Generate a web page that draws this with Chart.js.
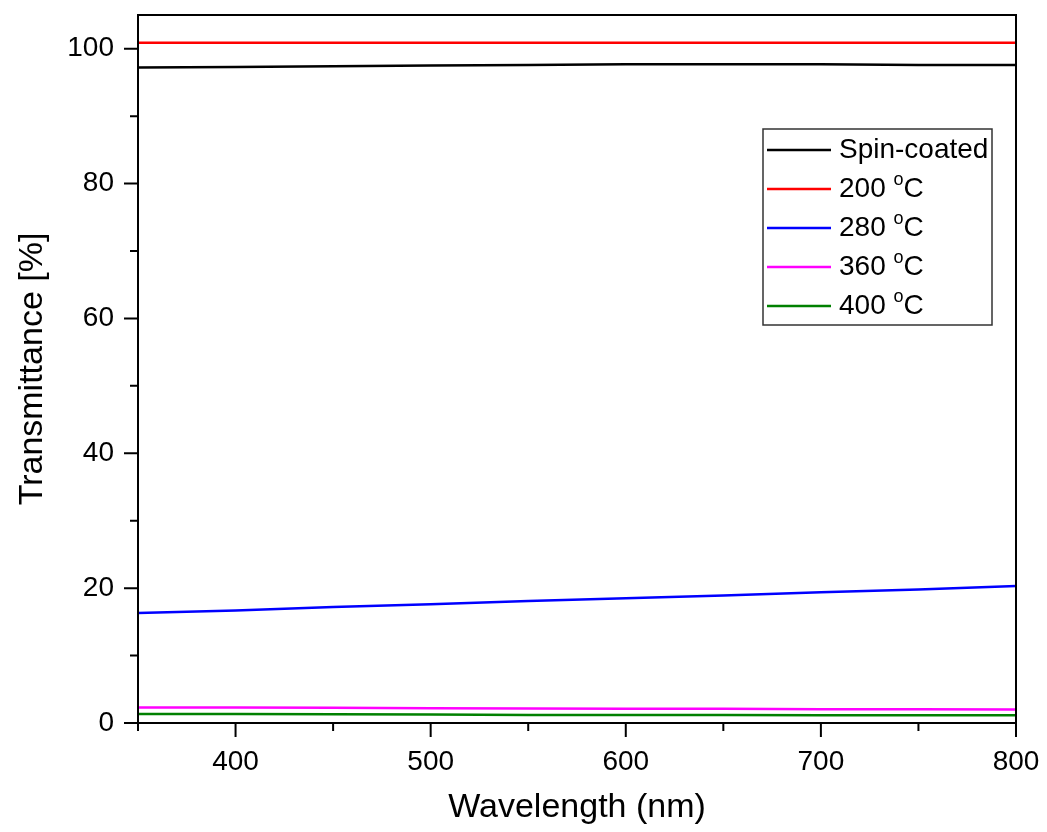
<!DOCTYPE html>
<html>
<head>
<meta charset="utf-8">
<script src="https://cdn.jsdelivr.net/npm/chart.js@4.4.1/dist/chart.umd.min.js"></script>
<style>
  html, body { margin: 0; padding: 0; background: #fff; }
  #wrap { width: 1047px; height: 832px; }
</style>
</head>
<body>
<div id="wrap"><canvas id="chart" width="1047" height="832"></canvas></div>
<script>
// wavelength grid (nm)
const wavelengths = [350, 400, 450, 500, 550, 600, 650, 700, 750, 800];

// transmittance (%)
const spinCoated = [97.2, 97.3, 97.4, 97.5, 97.6, 97.7, 97.7, 97.7, 97.6, 97.6];
const t200 = [100.9, 100.9, 100.9, 100.9, 100.9, 100.9, 100.9, 100.9, 100.9, 100.9];
const t280 = [16.3, 16.7, 17.2, 17.6, 18.1, 18.5, 18.9, 19.4, 19.8, 20.3];
const t360 = [2.3, 2.3, 2.25, 2.2, 2.15, 2.1, 2.1, 2.05, 2.05, 2.0];
const t400 = [1.35, 1.35, 1.3, 1.25, 1.2, 1.2, 1.2, 1.15, 1.15, 1.15];

const seriesLabels = ['Spin-coated', '200 °C', '280 °C', '360 °C', '400 °C'];
const seriesColors = ['#000000', '#ff0000', '#0000ff', '#ff00ff', '#008000'];
const seriesValues = [spinCoated, t200, t280, t360, t400];

const FONT = 'Arial, "Liberation Sans", sans-serif';

const datasets = seriesValues.map((vals, i) => ({
  label: seriesLabels[i],
  data: vals.map((v, j) => ({ x: wavelengths[j], y: v })),
  borderColor: seriesColors[i],
  borderWidth: 2.5,
  pointRadius: 0,
  fill: false,
  tension: 0,
}));

// frame, major/minor ticks and the boxed legend
const framePlugin = {
  id: 'frame',
  afterDraw(chart) {
    const ctx = chart.ctx;
    const a = chart.chartArea;
    const xs = chart.scales.x;
    const ys = chart.scales.y;
    ctx.save();
    ctx.strokeStyle = '#000';
    ctx.lineWidth = 2;
    ctx.strokeRect(a.left, a.top, a.right - a.left, a.bottom - a.top);

    ctx.beginPath();
    for (let v = 350; v <= 800; v += 50) {
      const px = xs.getPixelForValue(v);
      const len = v % 100 === 0 ? 14 : 8;
      ctx.moveTo(px, a.bottom);
      ctx.lineTo(px, a.bottom + len);
    }
    for (let v = 0; v <= 100; v += 10) {
      const py = ys.getPixelForValue(v);
      const len = v % 20 === 0 ? 14 : 8;
      ctx.moveTo(a.left, py);
      ctx.lineTo(a.left - len, py);
    }
    ctx.stroke();

    // legend
    const lx = a.right - 253, ly = a.top + 114, lw = 229, lh = 196;
    ctx.lineWidth = 1.5;
    ctx.strokeStyle = '#333';
    ctx.fillStyle = '#fff';
    ctx.fillRect(lx, ly, lw, lh);
    ctx.strokeRect(lx, ly, lw, lh);
    ctx.textBaseline = 'middle';
    chart.data.datasets.forEach((ds, i) => {
      const y = ly + 21 + i * 39;
      ctx.strokeStyle = ds.borderColor;
      ctx.lineWidth = 2.5;
      ctx.beginPath();
      ctx.moveTo(lx + 4, y);
      ctx.lineTo(lx + 68, y);
      ctx.stroke();
      ctx.fillStyle = '#000';
      let tx = lx + 76;
      const parts = ds.label.split('°');
      ctx.font = '28px ' + FONT;
      ctx.fillText(parts[0], tx, y);
      tx += ctx.measureText(parts[0]).width;
      if (parts.length > 1) {
        ctx.font = '18px ' + FONT;
        ctx.fillText('o', tx, y - 9);
        tx += ctx.measureText('o').width;
        ctx.font = '28px ' + FONT;
        ctx.fillText(parts[1], tx, y);
      }
    });
    ctx.restore();
  }
};

new Chart(document.getElementById('chart'), {
  type: 'line',
  data: { datasets },
  plugins: [framePlugin],
  options: {
    responsive: false,
    animation: false,
    layout: { padding: { top: 15, right: 31, left: 0, bottom: 0 } },
    plugins: { legend: { display: false }, tooltip: { enabled: false } },
    scales: {
      x: {
        type: 'linear',
        min: 350,
        max: 800,
        grid: { display: false, drawTicks: false },
        border: { display: false },
        ticks: { stepSize: 100, padding: 22, color: '#000', font: { size: 28, family: FONT } },
        afterBuildTicks: (s) => { s.ticks = s.ticks.filter(t => t.value % 100 === 0); },
        afterFit: (s) => { s.height = 109; s.paddingLeft = 0; s.paddingRight = 0; },
        title: { display: true, text: 'Wavelength (nm)', color: '#000', font: { size: 34, family: FONT }, padding: { top: 4, bottom: 4 } },
      },
      y: {
        min: 0,
        max: 105,
        grid: { display: false, drawTicks: false },
        border: { display: false },
        ticks: { stepSize: 20, padding: 24, color: '#000', font: { size: 28, family: FONT } },
        afterBuildTicks: (s) => { s.ticks = s.ticks.filter(t => t.value % 20 === 0); },
        afterFit: (s) => { s.width = 138; s.paddingTop = 0; s.paddingBottom = 0; },
        title: { display: true, text: 'Transmittance [%]', color: '#000', font: { size: 34, family: FONT }, padding: { top: 12, bottom: 12 } },
      },
    },
  },
});
</script>
</body>
</html>
